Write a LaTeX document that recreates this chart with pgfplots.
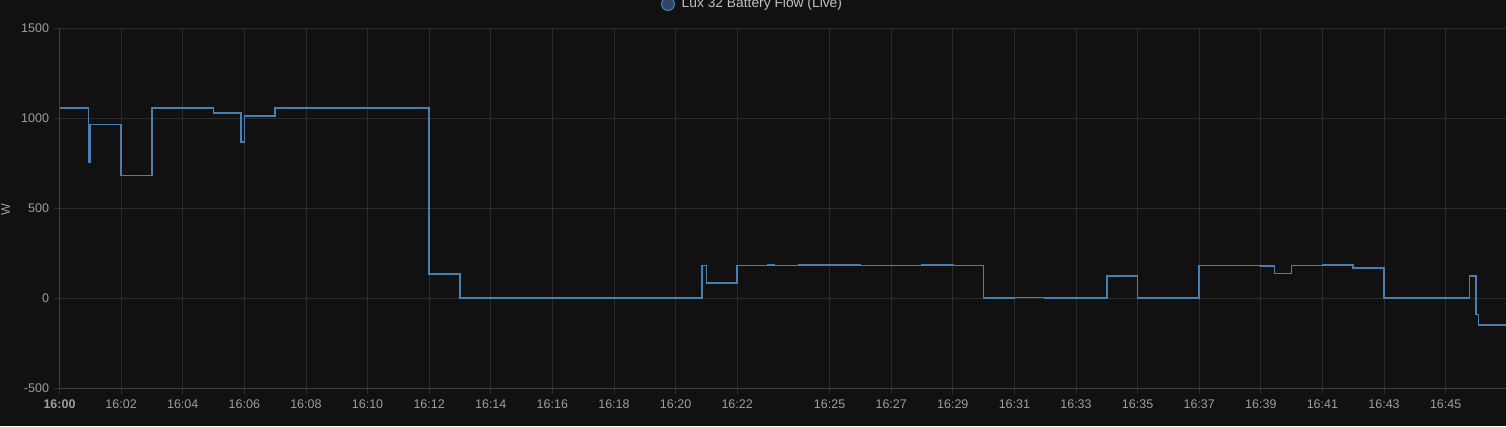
\documentclass[border=0pt]{standalone}
\usepackage{pgfplots}
\pgfplotsset{compat=1.18}
\usepackage{fontspec}
\setmainfont{Liberation Sans}
\definecolor{bg}{RGB}{17,17,18}
\definecolor{gridc}{RGB}{44,44,46}
\definecolor{axc}{RGB}{62,62,64}
\definecolor{tickc}{RGB}{155,157,160}
\definecolor{linec}{RGB}{72,126,176}
\definecolor{legfill}{RGB}{44,72,102}
\definecolor{legtext}{RGB}{190,192,196}
\begin{document}
\begin{tikzpicture}[x=1pt,y=1pt]
\fill[bg] (-59.5,-38) rectangle (1446.5,388);
\useasboundingbox (-59.5,-38) rectangle (1446.5,388);
\begin{axis}[
  at={(0,0)}, anchor=south west,
  scale only axis, width=1446.5pt, height=360pt,
  xmin=0, xmax=46.96, ymin=-500, ymax=1500,
  axis background/.style={fill=bg},
  axis line style={draw=axc},
  axis x line*=bottom, axis y line*=left,
  x axis line style={-}, y axis line style={-},
  grid=major, major grid style={draw=gridc, line width=0.8pt},
  tick style={draw=gridc, line width=0.8pt},
  major tick length=6pt, tick align=outside,
  xtick={0,2,4,6,8,10,12,14,16,18,20,22,25,27,29,31,33,35,37,39,41,43,45},
  xticklabels={\textbf{16:00},16:02,16:04,16:06,16:08,16:10,16:12,16:14,16:16,16:18,16:20,16:22,16:25,16:27,16:29,16:31,16:33,16:35,16:37,16:39,16:41,16:43,16:45},
  ytick={-500,0,500,1000,1500},
  yticklabels={-500,0,500,1000,1500},
  ticklabel style={font=\fontsize{12.5}{14}\selectfont, text=tickc},
  xticklabel style={yshift=-2pt},
  yticklabel style={xshift=-1pt},
  clip=true,
]
\addplot[const plot, draw=linec, line width=1.6pt] coordinates {
(0,1055) (0.935,757) (0.99,965) (2.0,680) (3.0,1055) (5.0,1028) (5.9,867) (6.0,1011) (7.0,1055)
(12.0,133) (13.0,0) (20.85,180) (21.0,85) (22.0,180) (23.0,184) (23.2,180) (24.0,182) (26.0,180)
(28.0,182) (29.0,180) (30.0,0) (31.0,3) (32.0,0) (34.0,122) (35.0,0) (37.0,180) (39.0,177)
(39.45,137) (40.0,180) (41.0,182) (42.0,168) (43.0,0) (45.77,122) (45.98,-91) (46.07,-150) (46.96,-150)
};
\end{axis}
\node[text=tickc, rotate=90, font=\fontsize{12.5}{14}\selectfont] at (-54,178) {W};
\filldraw[fill=legfill, draw=linec, line width=1pt] (608.5,384) circle (6.5);
\node[anchor=west, text=legtext, font=\fontsize{13.8}{15}\selectfont, inner sep=0pt] at (622,384) {Lux 32 Battery Flow (Live)};
\end{tikzpicture}
\end{document}
